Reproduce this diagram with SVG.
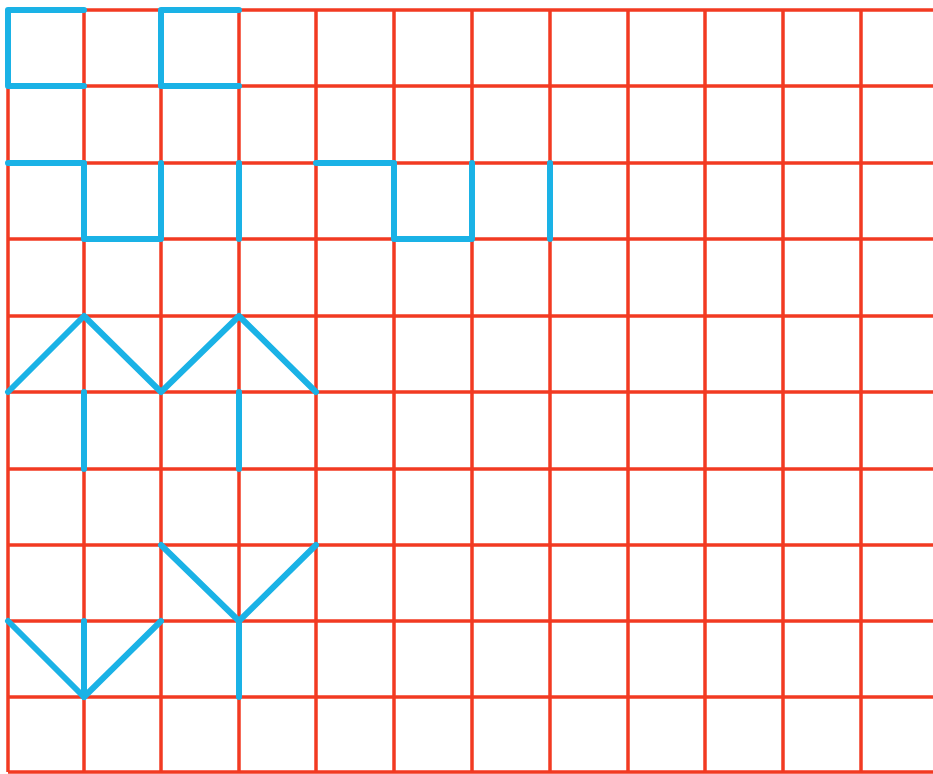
<svg xmlns="http://www.w3.org/2000/svg" width="933" height="774" viewBox="0 0 933 774">
<style>
.grid line{stroke:#f23a22;stroke-width:3.5}
.blue{fill:none;stroke:#1ab2e6;stroke-width:6;stroke-linejoin:round;stroke-linecap:round}
</style>
<rect width="933" height="774" fill="#ffffff"/>
<g id="grid" class="grid">
<line x1="8" y1="10" x2="8" y2="772"/>
<line x1="84" y1="10" x2="84" y2="772"/>
<line x1="161" y1="10" x2="161" y2="772"/>
<line x1="239" y1="10" x2="239" y2="772"/>
<line x1="316" y1="10" x2="316" y2="772"/>
<line x1="394" y1="10" x2="394" y2="772"/>
<line x1="472" y1="10" x2="472" y2="772"/>
<line x1="550" y1="10" x2="550" y2="772"/>
<line x1="628" y1="10" x2="628" y2="772"/>
<line x1="705" y1="10" x2="705" y2="772"/>
<line x1="783" y1="10" x2="783" y2="772"/>
<line x1="861" y1="10" x2="861" y2="772"/>
<line x1="8" y1="10" x2="933" y2="10"/>
<line x1="8" y1="86" x2="933" y2="86"/>
<line x1="8" y1="163" x2="933" y2="163"/>
<line x1="8" y1="239" x2="933" y2="239"/>
<line x1="8" y1="316" x2="933" y2="316"/>
<line x1="8" y1="392" x2="933" y2="392"/>
<line x1="8" y1="469" x2="933" y2="469"/>
<line x1="8" y1="545" x2="933" y2="545"/>
<line x1="8" y1="621" x2="933" y2="621"/>
<line x1="8" y1="697" x2="933" y2="697"/>
<line x1="8" y1="772" x2="933" y2="772"/>
</g>
<g id="shape1"><path class="blue" d="M84,10 H8 V86 H84"/></g>
<g id="shape2"><path class="blue" d="M239,10 H161 V86 H239"/></g>
<g id="shape3"><path class="blue" d="M8,163 H84 V239 H161 V163"/><path class="blue" d="M239,163 V239"/></g>
<g id="shape4"><path class="blue" d="M316,163 H394 V239 H472 V163"/><path class="blue" d="M550,163 V239"/></g>
<g id="shape5"><path class="blue" d="M8,392 L84,316 L161,392 L239,316 L316,392"/><path class="blue" d="M84,392 V469"/><path class="blue" d="M239,392 V469"/></g>
<g id="shape6"><path class="blue" d="M161,545 L239,621 L316,545"/><path class="blue" d="M239,621 V697"/></g>
<g id="shape7"><path class="blue" d="M8,621 L84,697 L161,621"/><path class="blue" d="M84,621 V697"/></g>
</svg>
